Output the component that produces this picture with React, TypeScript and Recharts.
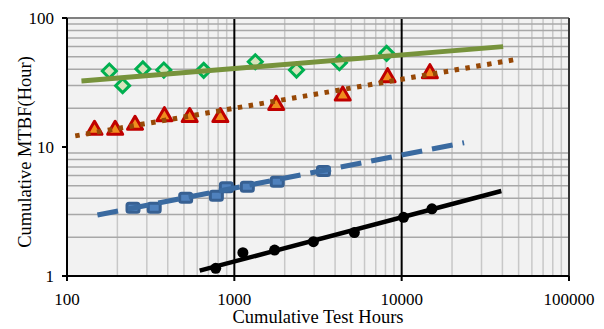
import {
  ComposedChart,
  Scatter,
  XAxis,
  YAxis,
  CartesianGrid,
  ReferenceLine,
  Label,
} from 'recharts'

// cumulative test hours / cumulative MTBF
const greenPts = [
  { x: 179, y: 38.8 },
  { x: 215, y: 29.9 },
  { x: 284, y: 40.3 },
  { x: 379, y: 39.5 },
  { x: 656, y: 39.3 },
  { x: 1334, y: 45.8 },
  { x: 2353, y: 39.5 },
  { x: 4246, y: 45 },
  { x: 8128, y: 53.2 },
]
const greenFit = [
  { x: 122, y: 32.5 },
  { x: 40400, y: 60 },
]

const redPts = [
  { x: 146, y: 13.7 },
  { x: 194, y: 13.7 },
  { x: 255, y: 15.0 },
  { x: 382, y: 17.5 },
  { x: 541, y: 17.2 },
  { x: 825, y: 17.2 },
  { x: 1780, y: 21.4 },
  { x: 4444, y: 25.3 },
  { x: 8243, y: 35.1 },
  { x: 14750, y: 37.7 },
]
const redFit = [
  { x: 112, y: 12.2 },
  { x: 49800, y: 48.1 },
]

const bluePts = [
  { x: 248, y: 3.38 },
  { x: 332, y: 3.38 },
  { x: 512, y: 4.05 },
  { x: 781, y: 4.19 },
  { x: 896, y: 4.87 },
  { x: 1196, y: 4.92 },
  { x: 1805, y: 5.38 },
  { x: 3408, y: 6.52 },
]
const blueFit = [
  { x: 152, y: 2.97 },
  { x: 23600, y: 10.8 },
]

const blackPts = [
  { x: 774, y: 1.148 },
  { x: 1125, y: 1.517 },
  { x: 1740, y: 1.59 },
  { x: 2970, y: 1.845 },
  { x: 5215, y: 2.17 },
  { x: 10260, y: 2.85 },
  { x: 15170, y: 3.32 },
]
const blackFit = [
  { x: 621, y: 1.1 },
  { x: 39400, y: 4.56 },
]

const xTicks = [100, 1000, 10000, 100000]
const yTicks = [1, 10, 100]
const xMinor = [
  200, 300, 400, 500, 600, 700, 800, 900,
  2000, 3000, 4000, 5000, 6000, 7000, 8000, 9000,
  20000, 30000, 40000, 50000, 60000, 70000, 80000, 90000,
]
const yMinor = [2, 3, 4, 5, 6, 7, 8, 9, 20, 30, 40, 50, 60, 70, 80, 90]

const FONT = '"Liberation Serif", "Times New Roman", serif'

const Diamond = ({ cx, cy }: any) => (
  <polygon
    points={`${cx},${cy - 7} ${cx + 7},${cy} ${cx},${cy + 7} ${cx - 7},${cy}`}
    fill="#d7e4bd"
    stroke="#00b050"
    strokeWidth={3}
  />
)

const Triangle = ({ cx, cy }: any) => (
  <polygon
    points={`${cx},${cy - 8} ${cx + 7.5},${cy + 5} ${cx - 7.5},${cy + 5}`}
    fill="#f08c1e"
    stroke="#c00000"
    strokeWidth={3}
    strokeLinejoin="round"
  />
)

const Square = ({ cx, cy }: any) => (
  <rect x={cx - 6} y={cy - 4.5} width={12} height={9} rx={2} fill="#4f81bd" stroke="#376092" strokeWidth={3} />
)

const Dot = ({ cx, cy }: any) => <circle cx={cx} cy={cy} r={5.5} fill="#000" />

const NoShape = () => <g />

export default function App() {
  return (
    <div style={{ position: 'absolute', left: 0, top: 0 }}>
      <ComposedChart width={604} height={329} margin={{ top: 18, right: 35, bottom: 0, left: 0 }}>
        <CartesianGrid fill="#f2f2f2" horizontal={false} vertical={false} />
        {xMinor.map((v) => (
          <ReferenceLine key={'x' + v} x={v} stroke="#c8c8c8" strokeWidth={1.5} ifOverflow="hidden" />
        ))}
        {yMinor.map((v) => (
          <ReferenceLine key={'y' + v} y={v} stroke="#a8a8a8" strokeWidth={1.5} ifOverflow="hidden" />
        ))}
        <ReferenceLine x={1000} stroke="#000" strokeWidth={2} />
        <ReferenceLine x={10000} stroke="#000" strokeWidth={2} />
        <ReferenceLine y={100} stroke="#808080" strokeWidth={2} />
        <ReferenceLine x={100000} stroke="#333" strokeWidth={2} />
        <XAxis
          dataKey="x"
          type="number"
          scale="log"
          domain={[100, 100000]}
          ticks={xTicks}
          allowDataOverflow
          height={53}
          tickSize={5}
          tickMargin={12}
          axisLine={{ stroke: '#000', strokeWidth: 2 }}
          tickLine={{ stroke: '#000', strokeWidth: 2 }}
          tick={{ fill: '#000', fontSize: 17, fontFamily: FONT }}
        >
          <Label
            content={({ viewBox }: any) => (
              <text
                x={viewBox.x + viewBox.width / 2}
                y={viewBox.y + 47}
                textAnchor="middle"
                fontSize={18.5}
                fontFamily={FONT}
                fill="#000"
              >
                Cumulative Test Hours
              </text>
            )}
          />
        </XAxis>
        <YAxis
          dataKey="y"
          type="number"
          scale="log"
          domain={[1, 100]}
          ticks={yTicks}
          allowDataOverflow
          width={67}
          tickSize={5}
          tickMargin={8}
          axisLine={{ stroke: '#000', strokeWidth: 2 }}
          tickLine={{ stroke: '#000', strokeWidth: 2 }}
          tick={{ fill: '#000', fontSize: 17, fontFamily: FONT }}
        >
          <Label
            content={({ viewBox }: any) => {
              const cx = viewBox.x + 25
              const cy = viewBox.y + viewBox.height / 2 + 5
              return (
                <text
                  x={cx}
                  y={cy}
                  transform={`rotate(-90 ${cx} ${cy})`}
                  textAnchor="middle"
                  dominantBaseline="central"
                  fontSize={18.5}
                  fontFamily={FONT}
                  fill="#000"
                >
                  Cumulative MTBF(Hour)
                </text>
              )
            }}
          />
        </YAxis>
        <Scatter data={greenPts} shape={Diamond} isAnimationActive={false} />
        <Scatter data={redPts} shape={Triangle} isAnimationActive={false} />
        <Scatter data={bluePts} shape={Square} isAnimationActive={false} />
        <Scatter data={blackPts} shape={Dot} isAnimationActive={false} />
        <Scatter
          data={greenFit}
          shape={NoShape}
          line={{ stroke: '#77933c', strokeWidth: 5 }}
          lineType="joint"
          isAnimationActive={false}
        />
        <Scatter
          data={redFit}
          shape={NoShape}
          line={{ stroke: '#974806', strokeWidth: 5, strokeDasharray: '4.5 6.5' }}
          lineType="joint"
          isAnimationActive={false}
        />
        <Scatter
          data={blueFit}
          shape={NoShape}
          line={{ stroke: '#3a6aa0', strokeWidth: 5, strokeDasharray: '21 10' }}
          lineType="joint"
          isAnimationActive={false}
        />
        <Scatter
          data={blackFit}
          shape={NoShape}
          line={{ stroke: '#000', strokeWidth: 4.5 }}
          lineType="joint"
          isAnimationActive={false}
        />
      </ComposedChart>
    </div>
  )
}
